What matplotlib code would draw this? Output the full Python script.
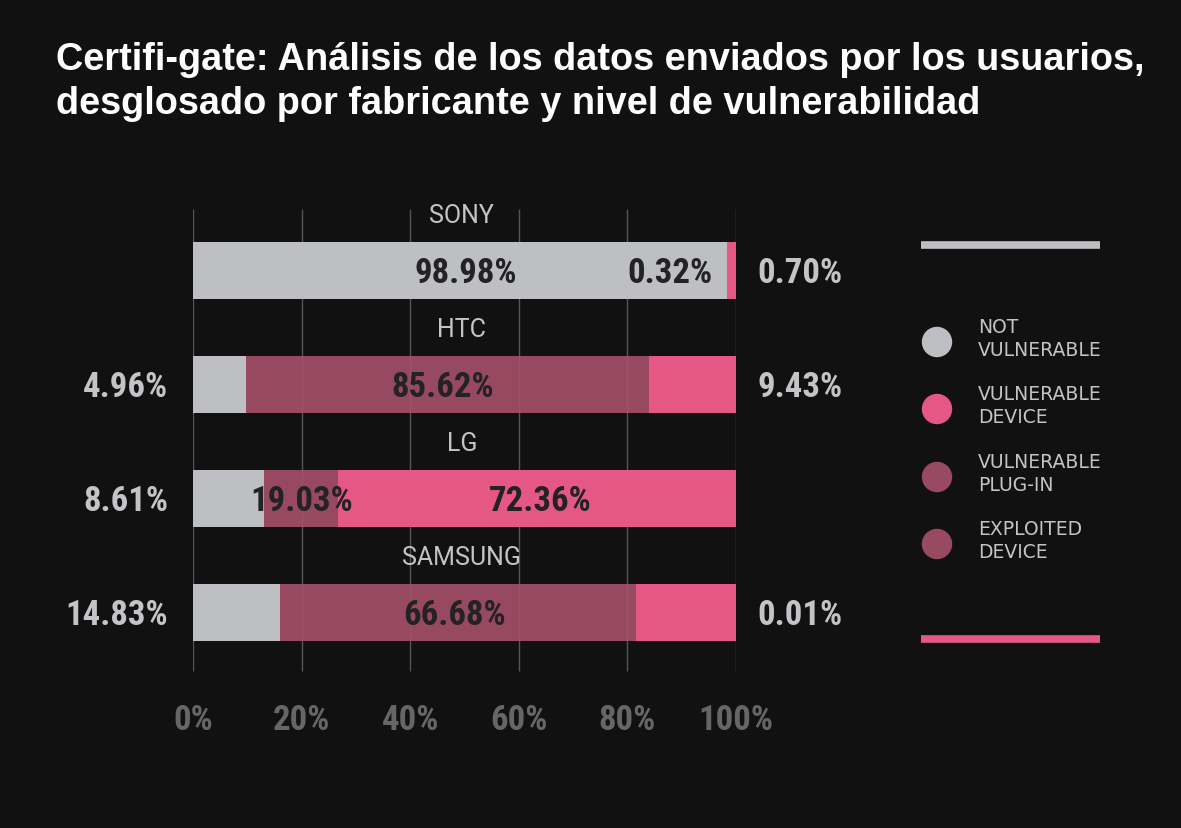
import matplotlib
matplotlib.use('Agg')
import matplotlib.pyplot as plt
from matplotlib import font_manager

# pick the narrowest family that is installed for the numbers
installed = set(f.name for f in font_manager.fontManager.ttflist)
narrow = 'Roboto'
for cand in ['Roboto Condensed', 'Liberation Sans Narrow', 'DejaVu Sans Condensed',
             'Open Sans Condensed', 'Noto Sans Condensed']:
    if cand in installed:
        narrow = cand
        break
NUM_FONT = [narrow, 'DejaVu Sans']
NUM_SIZE = 25 if narrow != 'Roboto' else 21
CAT_FONT = ['Roboto', 'DejaVu Sans']

# data
makers = ['SONY', 'HTC', 'LG', 'SAMSUNG']
# drawn widths of the segments (percent of bar)
not_vuln = [98.3, 9.8, 13.1, 16.0]
plug_in = [0.0, 74.2, 13.6, 65.6]
device = [1.7, 16.0, 73.3, 18.4]
# printed labels
left_labels = ['', '4.96%', '8.61%', '14.83%']
right_labels = ['0.70%', '9.43%', '', '0.01%']
inner_labels = [['98.98%', '0.32%'], ['85.62%'], ['19.03%', '72.36%'], ['66.68%']]
inner_pos = [[50.3, 87.8], [46.0], [20.1, 63.9], [48.1]]
ticks = [0, 20, 40, 60, 80, 100]

legend_names = ['NOT\nVULNERABLE', 'VULNERABLE\nDEVICE', 'VULNERABLE\nPLUG-IN', 'EXPLOITED\nDEVICE']

BG = '#111111'
GRAY = '#bebfc2'
PINK = '#e55886'
MAUVE = '#a9526d'
MAUVE_SOLID = '#984a62'
LIGHT = '#c4c4c8'

W, H = 1181, 829
fig = plt.figure(figsize=(W / 100, H / 100), dpi=100, facecolor=BG)

# axes placed so that 0% sits at x=193 px and 100% at x=736 px
top, bottom = 202.6, 681.4
ax = fig.add_axes([193 / W, 1 - bottom / H, (736 - 193) / W, (bottom - top) / H])
ax.set_facecolor(BG)
ax.set_xlim(0, 100)
ax.set_ylim(3.6, -0.6)
ax.axis('off')

ys = list(range(len(makers)))
ax.vlines(ticks, -0.535, 3.52, color='#555555', linewidth=1, zorder=1)

ax.barh(ys, not_vuln, height=0.5, color=GRAY, zorder=3)
ax.barh(ys, plug_in, left=not_vuln, height=0.5, color=MAUVE, alpha=0.88, zorder=2)
left3 = [a + b for a, b in zip(not_vuln, plug_in)]
ax.barh(ys, device, left=left3, height=0.5, color=PINK, zorder=3)

for i, name in enumerate(makers):
    ax.text(49.5, i - 0.48, name, color=LIGHT, fontsize=18, family=CAT_FONT,
            ha='center', va='center', zorder=5)
    ax.text(-4.6, i + 0.02, left_labels[i], color=LIGHT, fontsize=NUM_SIZE,
            fontweight='bold', family=NUM_FONT, ha='right', va='center', clip_on=False)
    ax.text(104.0, i + 0.02, right_labels[i], color=LIGHT, fontsize=NUM_SIZE,
            fontweight='bold', family=NUM_FONT, ha='left', va='center', clip_on=False)
    for lab, px in zip(inner_labels[i], inner_pos[i]):
        ax.text(px, i + 0.02, lab, color='#232323', fontsize=NUM_SIZE, fontweight='bold',
                family=NUM_FONT, ha='center', va='center', zorder=5)

for t in ticks:
    ax.text(t, 3.94, f'{t}%', color='#666666', fontsize=NUM_SIZE, fontweight='bold',
            family=NUM_FONT, ha='center', va='center', clip_on=False)

# legend on the right
fig.add_artist(plt.Line2D([921 / W, 1100 / W], [1 - 246 / H, 1 - 246 / H],
                          color=GRAY, linewidth=5.5, solid_capstyle='butt'))
fig.add_artist(plt.Line2D([921 / W, 1100 / W], [1 - 640 / H, 1 - 640 / H],
                          color=PINK, linewidth=5.5, solid_capstyle='butt'))
leg_colors = [GRAY, PINK, MAUVE_SOLID, MAUVE_SOLID]
leg_y = [343, 410, 478, 545]
for c, name, yy in zip(leg_colors, legend_names, leg_y):
    fig.add_artist(plt.Circle((9.37, (H - yy) / 100), 0.145, color=c,
                              transform=fig.dpi_scale_trans))
    fig.text(978 / W, 1 - (yy - 4) / H, name, color=LIGHT, fontsize=13.5,
             family=['DejaVu Sans'], ha='left', va='center', linespacing=1.25)

fig.text(56 / W, 1 - 82 / H,
         'Certifi-gate: Análisis de los datos enviados por los usuarios,\n'
         'desglosado por fabricante y nivel de vulnerabilidad',
         color='white', fontsize=27.3, fontweight='bold',
         family=['Liberation Sans', 'DejaVu Sans'],
         ha='left', va='center', linespacing=1.25)

fig.savefig('out.png', dpi=100, facecolor=BG)
